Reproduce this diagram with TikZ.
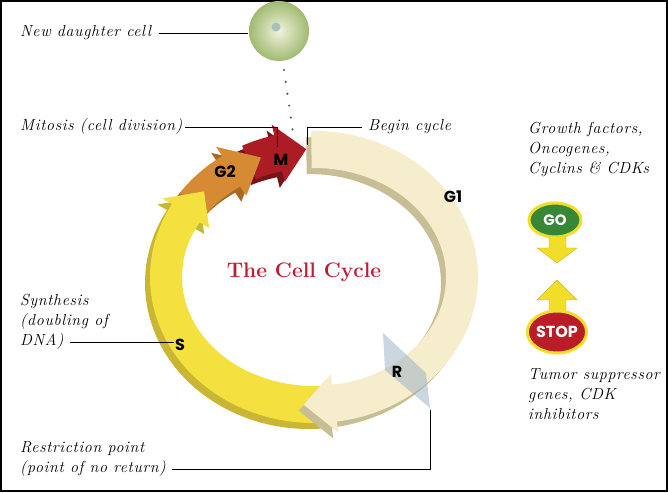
\documentclass[tikz,border=0pt]{standalone}
\usepackage{fontspec}
\newfontfamily\phasefont{Poppins}
\newfontfamily\notefont{Latin Modern Roman}[LetterSpace=4.0]
\usetikzlibrary{positioning, shapes.geometric, calc}

\definecolor{mface}{RGB}{172,28,36}
\definecolor{mside}{RGB}{120,18,24}
\definecolor{gtwoface}{RGB}{214,138,52}
\definecolor{gtwoside}{RGB}{168,104,36}
\definecolor{sface}{RGB}{244,224,62}
\definecolor{sside}{RGB}{200,182,52}
\definecolor{goneface}{RGB}{245,237,204}
\definecolor{goneside}{RGB}{200,190,150}
\definecolor{titlered}{RGB}{190,30,50}
\definecolor{lampyellow}{RGB}{242,222,40}
\definecolor{gogreen}{RGB}{55,135,55}
\definecolor{stopred}{RGB}{185,30,40}
\definecolor{rplane}{RGB}{160,180,198}
\definecolor{cellouter}{RGB}{160,186,112}
\definecolor{cellinner}{RGB}{240,242,222}

\tikzset{
    note/.style={font=\notefont\itshape\fontsize{16}{20}\selectfont, inner sep=0pt, align=left},
    phase/.style={font=\phasefont\bfseries\fontsize{16}{16}\selectfont, inner sep=1pt},
    leader/.style={draw=black, line width=0.9pt},
    lamp/.style={ellipse, draw=lampyellow, line width=3pt, minimum width=52pt,
        minimum height=34pt, text=white, inner sep=0pt,
        font=\phasefont\bfseries\fontsize{15}{15}\selectfont},
    pointer/.style={fill=lampyellow, draw=lampyellow!80!black, line width=0.4pt},
    wall/.style={xshift=-5pt, yshift=-6pt}
}

% one phase of the ring: tail angle, head base angle, tip angle, style
\newcommand{\ringarrow}[4]{%
    \path[#4] ({314+164*cos(#1)},{215+146*sin(#1)})
        arc[start angle=#1, end angle=#2, x radius=164, y radius=146]
        -- ({314+175*cos(#2)},{215+157*sin(#2)})
        -- ({314+148*cos(#3)},{215+128*sin(#3)})
        -- ({314+121*cos(#2)},{215+98*sin(#2)})
        -- ({314+132*cos(#2)},{215+109*sin(#2)})
        arc[start angle=#2, end angle=#1, x radius=132, y radius=109] -- cycle;}

\begin{document}
\begin{tikzpicture}[x=1pt, y=1pt]
    \useasboundingbox (0,0) rectangle (668,492);
    \draw[line width=2pt] (1,1) rectangle (667,491);

    % ring
    \ringarrow{116}{104}{93}{fill=mside, wall}
    \ringarrow{116}{104}{93}{fill=mface}
    \ringarrow{145}{124}{111}{fill=gtwoside, wall}
    \ringarrow{145}{124}{111}{fill=gtwoface}
    \ringarrow{-80}{-210}{-222}{fill=sside, wall}
    \ringarrow{-80}{-210}{-222}{fill=sface}
    \ringarrow{91}{-82}{-94}{fill=goneside, wall}
    \ringarrow{91}{-82}{-94}{fill=goneface}
    \fill[rplane, opacity=0.55] (383,159) -- (426,119) -- (430,84) -- (385,122) -- cycle;

    \node[phase] (gone) at (453,295) {G1};
    \node[phase] (gtwo) at (225,320) {G2};
    \node[phase] (mlabel) at (281,332) {M};
    \node[phase] (slabel) at (180,147) {S};
    \node[phase] (rlabel) at (397,120) {R};
    \node[font=\fontsize{21}{21}\selectfont\bfseries, text=titlered] (title) at (304,220) {The Cell Cycle};

    % daughter cell
    \shade[inner color=cellinner, outer color=cellouter] (279,461) circle (30);
    \node[circle, minimum size=61pt, inner sep=0pt] (cell) at (279,461) {};
    \fill[teal!45!gray!55!white, opacity=0.8] (276,465) circle (4.5);
    \coordinate (celldot) at (284,422);
    \coordinate (mdot) at (293,359);
    \draw[gray!70!black, line width=2.4pt, line cap=round, dash pattern=on 0pt off 12pt] (celldot) -- (mdot);

    % left labels
    \node[note, anchor=west] (daughter) at (20,459) {New daughter cell};
    \draw[leader] (daughter.east) ++(8,0) -- (daughter.east -| cell.west);
    \node[note, anchor=west] (mitosis) at (20,365) {Mitosis (cell division)};
    \coordinate (mtop) at (277,345);
    \draw[leader] (mitosis.east) ++(3,0) -| (mtop);
    \node[note, anchor=west] (dna) at (20,150) {DNA)};
    \node[note, anchor=south west, yshift=4pt] (synth) at (dna.north west) {Synthesis\\(doubling of};
    \draw[leader] (dna.east) ++(6,0) -- (dna.east -| slabel.west);
    \node[note, anchor=west] (noreturn) at (20,23) {(point of no return)};
    \node[note, anchor=south west, yshift=5pt] (restr) at (noreturn.north west) {Restriction point};
    \coordinate (rfoot) at (430,82);
    \draw[leader] (noreturn.east) ++(6,0) -| (rfoot);

    % begin cycle
    \node[note, anchor=west] (begin) at (368,365) {Begin cycle};
    \coordinate (gstart) at (307,347);
    \draw[leader] (begin.west) ++(-6,0) -| (gstart);

    % go / stop
    \node[note, anchor=north west] (growth) at (528,370) {Growth factors,\\Oncogenes,\\Cyclins \& CDKs};
    \node[lamp, fill=gogreen] (go) at (555,272) {GO};
    \draw[pointer] (549,256) -- (549,244) -- (537,244) -- (557,229) -- (577,244)
        -- (566,244) -- (566,256) -- cycle;
    \draw[pointer] (549,180) -- (549,192) -- (537,192) -- (557,212) -- (577,192)
        -- (566,192) -- (566,180) -- cycle;
    \node[lamp, fill=stopred, minimum width=54pt, minimum height=42pt,
        font=\phasefont\bfseries\fontsize{16}{16}\selectfont] (stop) at (557,160) {STOP};
    \node[note, anchor=north west] (tumor) at (528,124) {Tumor suppressor\\genes, CDK\\inhibitors};
\end{tikzpicture}
\end{document}
